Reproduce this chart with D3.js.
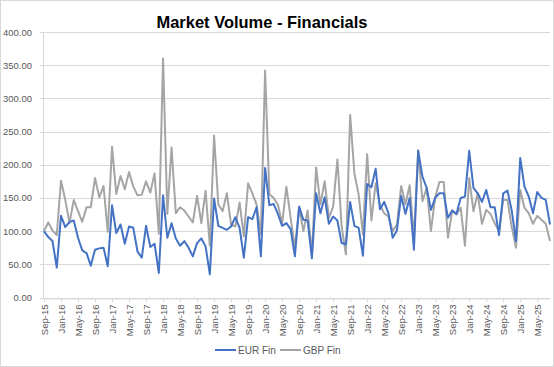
<!DOCTYPE html>
<html>
	<head>
		<meta charset="utf-8">
		<style type="text/css">
			body { margin: 0; font-family: "Liberation Sans", Arial, sans-serif; background: #fff; }
			.grid line { stroke: #d9d9d9; }
			.axis text { fill: #595959; font-size: 9.5px; }
		</style>
		<title>Market Volume - Financials</title>
	</head>
	<body>
		<script src="https://cdn.jsdelivr.net/npm/d3@7"></script>
		<script>

// monthly values, Sep-15 .. Aug-25
var eurFin = [
	100,91,85,45,123,106,114,116,90,71,67,48,72,74,75,47,139,97,110,81,107,105,69,60,
	108,76,81,37,154,90,112,89,78,85,75,62,82,89,77,35,149,108,105,102,107,121,105,60,
	121,118,136,62,195,139,141,126,108,112,103,62,137,117,116,59,157,127,151,111,122,116,82,80,
	144,108,105,63,171,166,194,133,144,127,90,101,153,126,150,72,221,182,165,132,150,157,157,120,
	131,126,150,152,221,165,157,144,162,136,136,94,157,161,131,85,210,167,152,127,159,150,147,110
];
var gbpFin = [
	100,113,101,94,176,147,112,147,130,114,136,136,180,151,168,99,227,156,183,163,189,167,154,155,
	175,158,187,96,360,126,226,127,136,131,122,113,153,112,161,78,244,140,130,157,110,107,143,92,
	172,157,140,95,342,156,150,140,111,167,120,75,135,100,131,65,196,140,175,120,137,208,107,65,
	275,187,155,95,216,116,172,140,127,122,100,110,168,140,169,90,222,145,165,100,151,174,174,90,
	131,125,135,78,180,130,157,111,132,126,112,100,147,147,106,75,162,135,127,111,123,117,111,85
];
var seriesNames = ["EUR Fin", "GBP Fin"];
var seriesColors = ["#4472c4", "#a5a5a5"];
var yTicks = [0, 50, 100, 150, 200, 250, 300, 350, 400];

var fmtMonth = d3.utcFormat("%b-%y");
var months = d3.utcMonth.range(new Date(Date.UTC(2015, 8, 1)), new Date(Date.UTC(2025, 8, 1))).map(fmtMonth);
var tickLabels = months.filter((m, i) => i % 4 == 0);

var W = 554, H = 367;
var svg = d3.select("body").append("svg")
	.attr("width", W)
	.attr("height", H);

// chart border
svg.append("rect")
	.attr("x", 0.5).attr("y", 0.5)
	.attr("width", W - 1).attr("height", H - 1)
	.attr("fill", "#fff")
	.attr("stroke", "#d9d9d9");

var x = d3.scalePoint().domain(months).range([44, 550]);
var y = d3.scaleLinear().domain([0, 400]).range([297.5, 32]);

// gridlines
svg.append("g")
	.attr("class", "grid")
	.selectAll("line")
	.data(yTicks)
	.enter()
	.append("line")
	.attr("x1", 40)
	.attr("x2", 550)
	.attr("y1", d => Math.round(y(d)) + 0.5)
	.attr("y2", d => Math.round(y(d)) + 0.5);

// y axis labels
svg.append("g")
	.attr("class", "axis")
	.selectAll("text")
	.data(yTicks)
	.enter()
	.append("text")
	.attr("x", 32)
	.attr("y", d => y(d) + 3.5)
	.attr("text-anchor", "end")
	.text(d => d.toFixed(2));

// y axis line
svg.append("line")
	.attr("x1", 43.5).attr("x2", 43.5)
	.attr("y1", 32).attr("y2", 298)
	.attr("stroke", "#d9d9d9");

// x axis
var xAxis = svg.append("g")
	.attr("class", "axis")
	.attr("transform", "translate(0," + (Math.round(y(0)) + 0.5) + ")")
	.call(d3.axisBottom(x).tickValues(tickLabels).tickSize(4).tickSizeOuter(0));
xAxis.select(".domain").attr("stroke", "#d9d9d9");
xAxis.selectAll(".tick line").attr("stroke", "#d9d9d9");
xAxis.selectAll(".tick text")
	.attr("transform", "rotate(-90)")
	.attr("text-anchor", "end")
	.attr("x", -6)
	.attr("y", 0)
	.attr("dy", "0.35em");

// lines
var line = d3.line()
	.x((d, i) => x(months[i]))
	.y(d => y(d));

[gbpFin, eurFin].forEach(function(s, k) {
	svg.append("path")
		.datum(s)
		.attr("d", line)
		.attr("fill", "none")
		.attr("stroke", k == 0 ? seriesColors[1] : seriesColors[0])
		.attr("stroke-width", 2)
		.attr("stroke-linejoin", "round");
});

// title
svg.append("text")
	.attr("x", 262)
	.attr("y", 28)
	.attr("text-anchor", "middle")
	.attr("font-weight", "bold")
	.attr("font-size", 17)
	.attr("fill", "#000")
	.attr("textLength", 211)
	.attr("lengthAdjust", "spacingAndGlyphs")
	.text("Market Volume - Financials");

// legend
var legendX = [215, 280];
var legend = svg.append("g")
	.selectAll("g")
	.data(seriesNames)
	.enter()
	.append("g")
	.attr("transform", (d, i) => "translate(" + legendX[i] + ",350)");
legend.append("line")
	.attr("x1", 0).attr("x2", 21)
	.attr("stroke", (d, i) => seriesColors[i])
	.attr("stroke-width", 2);
legend.append("text")
	.attr("x", 23)
	.attr("y", 3.5)
	.attr("font-size", 10)
	.attr("fill", "#595959")
	.text(d => d);

		</script>
	</body>
</html>
